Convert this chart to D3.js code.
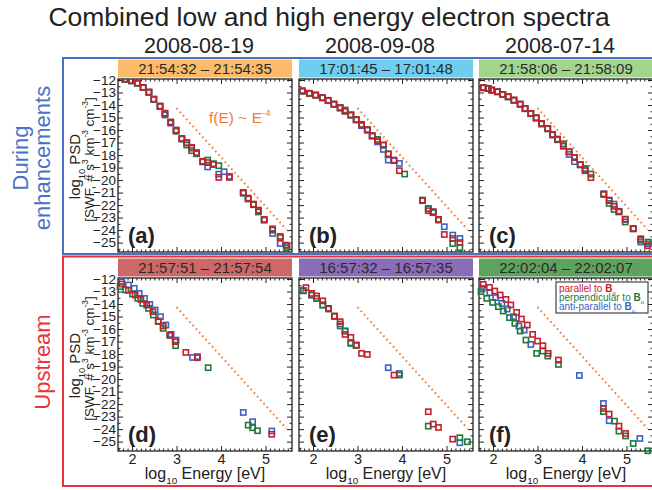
<!DOCTYPE html>
<html>
<head>
<meta charset="utf-8">
<script src="https://cdn.jsdelivr.net/npm/d3@7"></script>
<style>
  body { margin: 0; background: #fff; }
  svg { display: block; font-family: "Liberation Sans", Arial, Helvetica, sans-serif; }
</style>
</head>
<body>
<svg id="chart" width="652" height="490"></svg>
<script>
// ---- data: [log10 Energy (eV), log10 PSD] for each pitch-angle direction ----
const aPar  = [[1.84,-11.92],[1.99,-12.05],[2.12,-12.24],[2.25,-12.59],[2.38,-12.96],[2.49,-13.52],[2.63,-14.08],[2.74,-14.65],[2.87,-15.35],[2.99,-16.0],[3.12,-16.67],[3.23,-17.0],[3.34,-17.39],[3.45,-17.8],[3.59,-18.5],[3.70,-18.6],[3.83,-18.75],[3.95,-19.79],[4.19,-19.79],[4.50,-21.0],[4.61,-21.44],[4.73,-21.92],[4.84,-22.4],[4.97,-23.15],[5.16,-23.9],[5.33,-24.6],[5.46,-25.2]];
const aPerp = [[1.84,-11.95],[1.99,-12.08],[2.12,-12.26],[2.25,-12.6],[2.38,-12.98],[2.49,-13.55],[2.63,-14.1],[2.74,-14.7],[2.87,-15.4],[2.99,-16.1],[3.12,-16.72],[3.23,-17.2],[3.34,-17.65],[3.45,-17.9],[3.59,-18.5],[3.70,-18.4],[3.83,-18.72],[3.95,-18.85],[4.50,-21.02],[4.61,-21.5],[4.73,-21.97],[4.84,-22.55],[4.97,-23.18],[5.16,-24.0],[5.33,-24.5],[5.48,-25.44]];
const aAnti = [[1.84,-11.93],[1.99,-12.06],[2.12,-12.25],[2.25,-12.6],[2.38,-12.98],[2.49,-13.55],[2.63,-14.12],[2.74,-14.8],[2.87,-15.45],[2.99,-16.02],[3.12,-16.7],[3.23,-17.05],[3.34,-17.45],[3.45,-17.85],[3.59,-18.55],[3.70,-18.95],[3.83,-18.7],[3.95,-19.52],[4.07,-19.33],[4.19,-19.7],[4.50,-21.05],[4.61,-21.5],[4.73,-21.95],[4.84,-22.45],[4.97,-23.2],[5.16,-24.27],[5.33,-25.07],[5.48,-25.3]];

const bPar  = [[1.76,-12.88],[1.92,-13.07],[2.06,-13.2],[2.21,-13.41],[2.34,-13.62],[2.47,-13.92],[2.61,-14.22],[2.72,-14.48],[2.85,-14.78],[2.97,-15.17],[3.09,-15.58],[3.22,-15.97],[3.33,-16.45],[3.45,-16.85],[3.58,-17.2],[3.69,-17.92],[3.82,-18.4],[3.94,-19.25],[4.46,-21.65],[4.59,-22.45],[4.70,-22.53],[4.82,-23.15],[4.95,-24.35],[5.14,-24.67],[5.30,-25.0]];
const bPerp = [[1.76,-12.9],[1.92,-13.08],[2.06,-13.22],[2.21,-13.43],[2.34,-13.64],[2.47,-13.93],[2.61,-14.2],[2.72,-14.4],[2.85,-14.8],[2.97,-15.15],[3.09,-15.55],[3.22,-15.97],[3.33,-16.45],[3.45,-16.75],[3.58,-17.2],[3.69,-17.9],[4.06,-19.52],[4.46,-21.6],[4.59,-22.27],[4.70,-22.6],[4.82,-23.2],[5.14,-25.07],[5.30,-25.4]];
const bAnti = [[1.76,-12.86],[1.92,-13.05],[2.06,-13.2],[2.21,-13.42],[2.34,-13.65],[2.47,-13.95],[2.61,-14.25],[2.72,-14.5],[2.85,-14.82],[2.97,-15.2],[3.09,-15.65],[3.22,-16.02],[3.33,-16.5],[3.45,-16.95],[3.58,-17.55],[3.69,-18.4],[3.82,-18.45],[3.94,-18.67],[4.46,-21.62],[4.59,-22.3],[4.70,-22.55],[4.82,-23.15],[4.95,-23.73],[5.14,-24.4],[5.30,-24.67]];

const cPar  = [[1.78,-12.61],[1.89,-12.67],[1.97,-12.8],[2.10,-12.93],[2.22,-13.15],[2.34,-13.33],[2.47,-13.6],[2.61,-13.92],[2.72,-14.27],[2.85,-14.67],[2.97,-15.01],[3.09,-15.47],[3.23,-15.87],[3.34,-16.35],[3.45,-16.72],[3.58,-17.25],[3.71,-17.73],[3.83,-18.19],[3.96,-18.75],[4.07,-19.25],[4.20,-19.81],[4.49,-21.12],[4.61,-21.6],[4.72,-22.1],[4.83,-22.5],[4.97,-23.12],[5.15,-23.89],[5.32,-24.69],[5.47,-25.25]];
const cPerp = [[1.78,-12.63],[1.89,-12.69],[1.97,-12.82],[2.10,-12.95],[2.22,-13.17],[2.34,-13.35],[2.47,-13.62],[2.61,-13.93],[2.72,-14.28],[2.85,-14.68],[2.97,-15.03],[3.09,-15.5],[3.23,-15.9],[3.34,-16.38],[3.45,-16.75],[3.58,-17.1],[3.71,-17.75],[3.83,-18.2],[3.96,-18.78],[4.07,-19.15],[4.20,-19.52],[4.49,-21.15],[4.61,-21.87],[4.72,-22.35],[4.83,-22.55],[4.97,-23.35],[5.15,-23.9],[5.32,-24.8],[5.49,-24.96]];
const cAnti = [[1.78,-12.6],[1.89,-12.66],[1.97,-12.8],[2.10,-12.94],[2.22,-13.16],[2.34,-13.35],[2.47,-13.62],[2.61,-13.95],[2.72,-14.3],[2.85,-14.7],[2.97,-15.05],[3.09,-15.52],[3.23,-15.9],[3.34,-16.4],[3.45,-16.78],[3.58,-17.3],[3.71,-17.95],[3.83,-18.53],[3.96,-18.78],[4.07,-19.07],[4.49,-21.1],[4.61,-21.65],[4.72,-21.92],[4.83,-22.5],[4.97,-23.15],[5.15,-23.87],[5.32,-24.95],[5.49,-25.1]];

const dPar  = [[1.77,-12.4],[1.92,-12.9],[2.07,-13.28],[2.20,-13.63],[2.33,-14.08],[2.47,-14.61],[2.59,-15.36],[2.70,-15.76],[2.85,-16.48],[2.97,-17.01],[3.21,-17.87],[3.47,-18.29],[5.14,-24.41]];
const dPerp = [[1.73,-12.61],[1.86,-12.88],[2.01,-13.2],[2.13,-13.55],[2.24,-13.95],[2.37,-14.35],[2.48,-14.88],[2.59,-15.4],[2.70,-15.95],[2.85,-16.5],[2.98,-17.33],[3.71,-19.09],[4.61,-23.68],[4.71,-23.89],[4.82,-24.13]];
const dAnti = [[1.77,-12.21],[1.92,-12.48],[2.05,-12.75],[2.16,-13.15],[2.28,-13.55],[2.40,-14.03],[2.52,-14.48],[2.64,-15.01],[2.76,-15.68],[2.88,-16.43],[2.99,-16.88],[3.36,-18.27],[3.47,-18.2],[4.50,-22.67],[4.71,-23.41],[5.14,-24.15]];

const ePar  = [[1.84,-12.69],[1.97,-13.15],[2.08,-13.36],[2.22,-13.75],[2.35,-14.35],[2.48,-14.96],[2.61,-15.41],[2.72,-16.43],[2.85,-16.67],[2.97,-17.28],[3.09,-17.95],[3.22,-18.03],[3.82,-19.68],[4.59,-22.61],[4.70,-23.6],[4.82,-23.87],[5.14,-24.8]];
const ePerp = [[1.78,-12.95],[1.97,-13.28],[2.08,-13.55],[2.22,-14.08],[2.35,-14.4],[2.48,-14.98],[2.61,-15.6],[2.72,-16.16],[2.85,-17.15],[2.97,-17.3],[3.94,-19.68],[4.59,-23.76],[5.30,-24.69],[5.47,-25.01]];
const eAnti = [[1.78,-12.91],[1.97,-13.28],[2.08,-13.55],[2.22,-14.08],[2.35,-14.35],[2.48,-14.98],[2.61,-15.76],[2.72,-16.16],[2.85,-17.1],[2.97,-17.3],[3.69,-19.09],[3.94,-19.55],[5.30,-25.09]];

const fPar  = [[1.78,-12.43],[1.92,-12.67],[2.04,-12.96],[2.16,-13.28],[2.29,-13.63],[2.40,-14.08],[2.53,-14.67],[2.64,-15.2],[2.77,-15.68],[2.89,-16.43],[3.00,-16.96],[3.12,-17.33],[3.24,-17.95],[3.47,-18.48],[4.48,-22.35],[4.61,-22.8],[4.83,-23.76],[4.98,-24.35]];
const fPerp = [[1.73,-13.01],[1.86,-13.55],[1.99,-13.87],[2.12,-14.21],[2.23,-14.56],[2.37,-15.09],[2.49,-15.55],[2.61,-16.16],[2.74,-16.88],[2.98,-17.95],[3.12,-17.76],[3.23,-18.16],[3.47,-18.83],[4.48,-22.6],[4.73,-23.36],[4.83,-24.16],[4.98,-24.55],[5.15,-25.15],[5.48,-25.73]];
const fAnti = [[1.76,-12.75],[1.93,-13.09],[2.06,-13.49],[2.20,-13.95],[2.32,-14.4],[2.46,-15.01],[2.58,-15.76],[2.70,-16.08],[2.85,-17.23],[3.94,-19.71],[4.48,-21.95],[4.61,-23.33],[5.30,-24.75]];

// f(E) ~ E^-4 guide, end points
const powerLaw = [[3.0,-14.25],[5.47,-23.95]];

const panelLetters = ['(a)','(b)','(c)','(d)','(e)','(f)'];
const dates = ['2008-08-19','2008-09-08','2008-07-14'];
const bandTexts = ['21:54:32 \u2013 21:54:35','17:01:45 \u2013 17:01:48','21:58:06 \u2013 21:58:09',
                   '21:57:51 \u2013 21:57:54','16:57:32 \u2013 16:57:35','22:02:04 \u2013 22:02:07'];
const bandColors = ['#fbbb68','#6fcdf0','#a3d48b','#cc6868','#8a6db6','#5da25d'];
const xTickValues = [2,3,4,5];
const yTickValues = [-12,-13,-14,-15,-16,-17,-18,-19,-20,-21,-22,-23,-24,-25];
const seriesNames = ['anti','perp','par'];
const seriesColors = {par:'#c4202c', perp:'#1f7a3a', anti:'#3c62c4'};
const legendItems = [
  {key:'par', label:'parallel to '},
  {key:'perp', label:'perpendicular to '},
  {key:'anti', label:'anti-parallel to '}
];

const panelData = [
  {par:aPar, perp:aPerp, anti:aAnti},
  {par:bPar, perp:bPerp, anti:bAnti},
  {par:cPar, perp:cPerp, anti:cAnti},
  {par:dPar, perp:dPerp, anti:dAnti},
  {par:ePar, perp:ePerp, anti:eAnti},
  {par:fPar, perp:fPerp, anti:fAnti}
];

// ---- layout ----
const colX = [118, 299, 479];
const rowY = [79, 278];
const plotW = 174, plotH = 173;
const blue = '#4a72c4', red = '#e8333b';

const svg = d3.select('#chart');

// helper: text with sub/superscripts, parts = [[text, 'sub'|'sup'|null, bold]]
function rich(sel, parts) {
  let shift = 0;
  parts.forEach(([t, mode, bold]) => {
    let target = mode === 'sub' ? 0.3 : mode === 'sup' ? -0.45 : 0;
    let ts = sel.append('tspan').text(t)
      .attr('dy', (target - shift) + 'em');
    if (mode) ts.attr('font-size', '0.62em').attr('dy', ((target - shift) / 0.62) + 'em');
    if (bold) ts.attr('font-weight', 'bold');
    shift = target;
  });
  return sel;
}

// title
svg.append('text').attr('x', 329).attr('y', 26).attr('text-anchor', 'middle')
  .attr('font-size', 26.5).attr('fill', '#222')
  .text('Combined low and high energy electron spectra');

dates.forEach((d, i) => {
  svg.append('text').attr('x', colX[i] + plotW / 2 - 6).attr('y', 53)
    .attr('text-anchor', 'middle').attr('font-size', 21.5).attr('fill', '#222').text(d);
});

// frames
svg.append('rect').attr('x', 63).attr('y', 58).attr('width', 640).attr('height', 196)
  .attr('fill', 'none').attr('stroke', blue).attr('stroke-width', 2);
svg.append('rect').attr('x', 63).attr('y', 256.5).attr('width', 640).attr('height', 229.5)
  .attr('fill', 'none').attr('stroke', red).attr('stroke-width', 2);

// row labels
svg.append('text').attr('transform', 'translate(28,158) rotate(-90)')
  .attr('text-anchor', 'middle').attr('font-size', 22).attr('fill', blue).text('During');
svg.append('text').attr('transform', 'translate(50,158) rotate(-90)')
  .attr('text-anchor', 'middle').attr('font-size', 22).attr('fill', blue).text('enhancements');
svg.append('text').attr('transform', 'translate(50,362) rotate(-90)')
  .attr('text-anchor', 'middle').attr('font-size', 22).attr('fill', red).text('Upstream');

const x = d3.scaleLinear().domain([1.685, 5.595]).range([0, plotW]);
const y = d3.scaleLinear().domain([-25.75, -11.92]).range([plotH, 0]);

panelData.forEach((data, i) => {
  const col = i % 3, row = Math.floor(i / 3);
  const g = svg.append('g').attr('transform', `translate(${colX[col]},${rowY[row]})`);

  // time band
  g.append('rect').attr('x', 0).attr('y', -19.5).attr('width', plotW).attr('height', 18)
    .attr('fill', bandColors[i]);
  g.append('text').attr('x', plotW / 2).attr('y', -5)
    .attr('text-anchor', 'middle').attr('font-size', 15).attr('fill', '#2a2a2a').text(bandTexts[i]);

  // axes (inward ticks, mirrored)
  const minorX = d3.range(17, 56).map(v => v / 10).filter(v => v % 1 !== 0);
  const minorY = d3.range(-25.5, -11.9, 0.5).filter(v => v % 1 !== 0);
  const bottom = g.append('g').attr('transform', `translate(0,${plotH})`)
    .call(d3.axisBottom(x).tickValues(xTickValues).tickSize(-5).tickSizeOuter(0).tickPadding(3)
      .tickFormat(row === 1 ? d3.format('d') : ''));
  g.append('g').attr('transform', `translate(0,${plotH})`)
    .call(d3.axisBottom(x).tickValues(minorX).tickSize(-2.5).tickSizeOuter(0).tickFormat(''));
  g.append('g').call(d3.axisTop(x).tickValues(xTickValues).tickSize(-5).tickSizeOuter(0).tickFormat(''));
  g.append('g').call(d3.axisTop(x).tickValues(minorX).tickSize(-2.5).tickSizeOuter(0).tickFormat(''));
  const left = g.append('g')
    .call(d3.axisLeft(y).tickValues(yTickValues).tickSize(-5).tickSizeOuter(0).tickPadding(2)
      .tickFormat(col === 0 ? d3.format('d') : ''));
  g.append('g').call(d3.axisLeft(y).tickValues(minorY).tickSize(-2.5).tickSizeOuter(0).tickFormat(''));
  g.append('g').attr('transform', `translate(${plotW},0)`)
    .call(d3.axisRight(y).tickValues(yTickValues).tickSize(-5).tickSizeOuter(0).tickFormat(''));
  g.append('g').attr('transform', `translate(${plotW},0)`)
    .call(d3.axisRight(y).tickValues(minorY).tickSize(-2.5).tickSizeOuter(0).tickFormat(''));
  g.selectAll('.domain').remove();
  g.selectAll('.tick line').attr('stroke', '#222').attr('stroke-width', 1);
  bottom.selectAll('text').attr('font-size', 14.5).attr('fill', '#222')
    .attr('font-family', '"Liberation Sans", Arial, sans-serif');
  left.selectAll('text').attr('font-size', 13.5).attr('fill', '#222')
    .attr('font-family', '"Liberation Sans", Arial, sans-serif');

  g.append('rect').attr('width', plotW).attr('height', plotH)
    .attr('fill', 'none').attr('stroke', '#222').attr('stroke-width', 1.3);

  // E^-4 guide
  g.append('line')
    .attr('x1', x(powerLaw[0][0])).attr('y1', y(powerLaw[0][1]))
    .attr('x2', x(powerLaw[1][0])).attr('y2', y(powerLaw[1][1]))
    .attr('stroke', '#f47a2c').attr('stroke-width', 2).attr('stroke-dasharray', '1.6,3.2');

  // markers
  const clip = 'clip' + i;
  g.append('clipPath').attr('id', clip).append('rect').attr('x', -4).attr('y', 0)
    .attr('width', plotW + 8).attr('height', plotH + 4);
  const pts = g.append('g').attr('clip-path', `url(#${clip})`);
  seriesNames.forEach(s => {
    pts.selectAll('rect.' + s).data(data[s]).join('rect')
      .attr('class', s)
      .attr('x', d => x(d[0]) - 2.6).attr('y', d => y(d[1]) - 2.6)
      .attr('width', 5.2).attr('height', 5.2)
      .attr('fill', 'none').attr('stroke', seriesColors[s]).attr('stroke-width', 1.6);
  });

  // panel letter
  g.append('text').attr('x', 10).attr('y', plotH - 9).attr('font-size', 22)
    .attr('font-weight', 'bold').attr('fill', '#222').text(panelLetters[i]);

  // y label (first column)
  if (col === 0) {
    const yl = g.append('text').attr('transform', `translate(-38,${plotH / 2 + 1}) rotate(-90)`)
      .attr('text-anchor', 'middle').attr('font-size', 15).attr('fill', '#222');
    rich(yl, [['log'], ['10', 'sub'], [' PSD']]);
    const yl2 = g.append('text').attr('transform', `translate(-24,${plotH / 2 - 6}) rotate(-90)`)
      .attr('text-anchor', 'middle').attr('font-size', 13.5).attr('fill', '#222');
    rich(yl2, [['[SWF, # s'], ['3', 'sup'], [' km'], ['-3', 'sup'], [' cm'], ['-3', 'sup'], [']']]);
  }
  // x label (bottom row)
  if (row === 1) {
    const xl = g.append('text').attr('x', plotW / 2).attr('y', plotH + 28)
      .attr('text-anchor', 'middle').attr('font-size', 16).attr('fill', '#222');
    rich(xl, [['log'], ['10', 'sub'], [' Energy [eV]']]);
  }
  if (i === 0) {
    const ft = g.append('text').attr('x', 91).attr('y', 44).attr('font-size', 15.5).attr('fill', '#f27b35');
    rich(ft, [['f(E) ~ E'], ['-4', 'sup']]);
  }
  if (i === 5) {
    const lg = g.append('g').attr('transform', 'translate(77,4)');
    lg.append('rect').attr('width', 92).attr('height', 31).attr('fill', '#fff')
      .attr('stroke', '#444').attr('stroke-width', 1.2);
    legendItems.forEach((it, k) => {
      const t = lg.append('text').attr('x', 3).attr('y', 9.5 + k * 9.3)
        .attr('font-size', 10).attr('fill', seriesColors[it.key]);
      rich(t, [[it.label], ['B', null, true], ['o', 'sub']]);
    });
  }
});
</script>
</body>
</html>
